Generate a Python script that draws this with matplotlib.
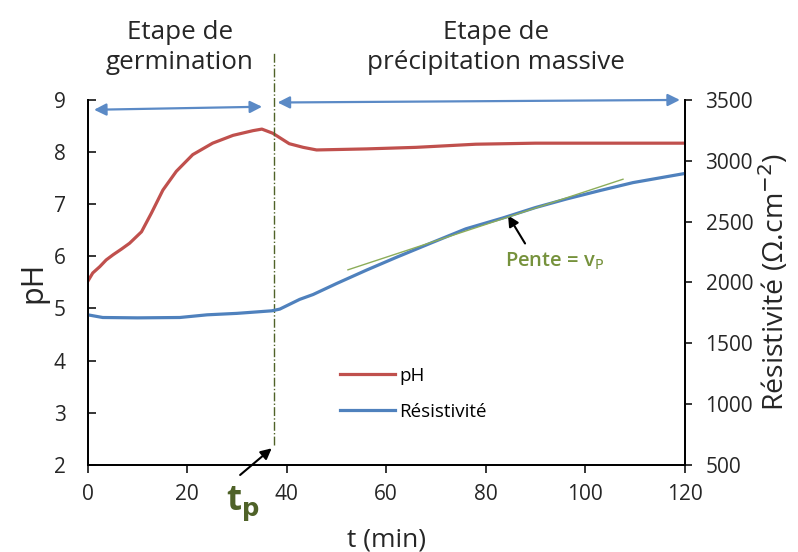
import matplotlib
matplotlib.use('Agg')
import matplotlib.pyplot as plt

plt.rcParams['font.family'] = ['Open Sans', 'DejaVu Sans']

# pH curve
t_ph = [0, 1, 2.4, 3.7, 5.1, 6.8, 8.4, 10.8, 12.8, 15.1, 17.8, 21.1, 25.1, 29.2, 33.2, 35, 37.2,
        40.5, 43.3, 46, 56, 66, 78, 90, 105, 120]
ph = [5.52, 5.68, 5.80, 5.93, 6.03, 6.14, 6.25, 6.47, 6.83, 7.27, 7.63, 7.95, 8.17, 8.32, 8.41, 8.44, 8.36,
      8.16, 8.09, 8.04, 8.06, 8.09, 8.15, 8.17, 8.17, 8.17]

# resistivity curve
t_res = [0, 3, 10, 18.5, 24, 30, 37, 38.6, 42.6, 45.3, 50, 56, 62, 69.4, 76, 83.5, 90, 96.2,
         103, 109.6, 120]
res = [1733, 1711, 1708, 1711, 1733, 1745, 1766, 1780, 1860, 1900, 1990, 2100, 2205, 2330, 2440,
       2530, 2615, 2685, 2755, 2820, 2895]

# tangent (slope v_p)
t_tan = [52.3, 107.6]
res_tan = [2103, 2848]

t_p = 37.4

dark = '#262626'
olive = '#76923c'
olive_dark = '#4f6228'
arrow_blue = '#5b8ac6'

fig = plt.figure(figsize=(7.98, 5.52), dpi=100)
ax = fig.add_axes([0.110, 0.158, 0.748, 0.661])
ax2 = ax.twinx()

l1, = ax.plot(t_ph, ph, color='#c0504d', lw=2.3, label='pH')
l2, = ax2.plot(t_res, res, color='#4f81bd', lw=2.3, label='Résistivité')
ax2.plot(t_tan, res_tan, color='#8cad5a', lw=1.0)

ax.set_xlim(0, 120)
ax.set_ylim(2, 9)
ax2.set_ylim(500, 3500)
ax.set_xticks(range(0, 121, 20))
ax.set_yticks(range(2, 10))
ax2.set_yticks(range(500, 3501, 500))

for a in (ax, ax2):
    a.spines['top'].set_visible(False)
    for s in a.spines.values():
        s.set_linewidth(1.3)
ax.tick_params(axis='y', direction='in', length=6, width=1.3, labelsize=15, colors=dark)
ax.yaxis.set_tick_params(pad=16)
ax.tick_params(axis='x', direction='out', length=6, width=1.3, labelsize=15, colors=dark, pad=8)
ax2.tick_params(axis='y', direction='out', length=5, width=1.3, labelsize=15, colors=dark, pad=10)

ax.set_xlabel('t (min)', fontsize=19, color=dark, labelpad=16)
ax.set_ylabel('pH', fontsize=22, color=dark, labelpad=4)
ax2.set_ylabel('Résistivité (Ω.cm$^{-2}$)', fontsize=20.5, color=dark, labelpad=3)

# vertical line at t_p
ax.plot([t_p, t_p], [2.38, 9.92], color=olive_dark, lw=1.0, ls='-.', clip_on=False)

# stage arrows
ax.annotate('', xy=(0.7, 8.81), xytext=(35.6, 8.87),
            arrowprops=dict(arrowstyle='<|-|>', color=arrow_blue, lw=1.6, mutation_scale=18),
            annotation_clip=False)
ax.annotate('', xy=(37.6, 8.95), xytext=(119.6, 9.0),
            arrowprops=dict(arrowstyle='<|-|>', color=arrow_blue, lw=1.6, mutation_scale=18),
            annotation_clip=False)

ax.text(18.5, 10.0, 'Etape de\ngermination', ha='center', va='center', fontsize=18.7,
        color=dark, linespacing=1.25)
ax.text(82, 10.0, 'Etape de\nprécipitation massive', ha='center', va='center', fontsize=18.7,
        color=dark, linespacing=1.25)

# t_p label
ax.annotate('', xy=(t_p, 2.35), xytext=(30.2, 1.77),
            arrowprops=dict(arrowstyle='-|>', color='black', lw=1.5, mutation_scale=16),
            annotation_clip=False)
ax.text(31.2, 1.24, r't$_\mathbf{p}$', ha='center', va='center', fontsize=25, fontweight='bold',
        color=olive_dark)

# slope label
ax.annotate('', xy=(84.2, 6.83), xytext=(88.2, 6.2),
            arrowprops=dict(arrowstyle='-|>', color='black', lw=1.5, mutation_scale=16))
ax.text(83.8, 5.9, r'Pente = v$_\mathrm{P}$', ha='left', va='center', fontsize=14.5,
        fontweight='semibold', color=olive)

ax.legend(handles=[l1, l2], loc='upper left', bbox_to_anchor=(0.395, 0.315), frameon=False,
          fontsize=13.5, handlelength=2.9, handletextpad=0.25, labelspacing=0.95)

fig.savefig('out.png', dpi=100)
